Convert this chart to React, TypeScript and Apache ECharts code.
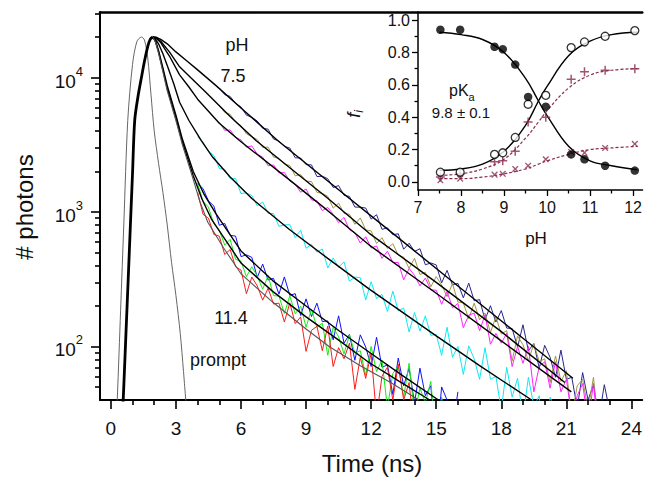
import React, { useEffect, useRef } from "react";
import * as echarts from "echarts";

// ---------- main panel: time-resolved decays ----------
const STEP = 0.25; // ns per plotted channel
const navyStart = 5.0;
const navyData = [8350,7460,7230,6410,6050,5250,5060,4750,4190,4130,3490,3370,3075,2990,2530,2520,2250,2240,1835,1843,1768,1522,1572,1330,1305,1088,1086,1070,886,955,743,763,677,689,529,586,509,533,405,418,404,297,368,287,295,230,296,219,223,158,201,152,185,137,136,99,145,93,105,69,102,83,59,94,57,59,35,64,40,52,29,52,33,38,26];
const oliveStart = 5.0;
const oliveData = [6225,5495,5330,4655,4394,3809,3630,3456,3016,3040,2560,2507,2271,2216,1857,1897,1698,1684,1400,1376,1308,1069,1162,977,963,810,904,737,723,583,644,536,581,477,461,381,453,343,356,278,331,286,235,293,214,211,161,210,158,177,127,166,124,131,78,120,103,78,105,77,81,54,85,55,66,30,51,57,34,59,24,37];
const magentaStart = 5.0;
const magentaData = [4651,4046,4074,3592,3434,3032,3101,2686,2562,2205,2237,1953,1966,1703,1611,1403,1484,1231,1210,1023,1081,962,833,910,737,704,587,655,540,559,452,511,422,421,313,380,338,282,323,264,262,206,256,194,209,138,171,177,131,172,104,125,106,125,71,100,75,100,46,71,77,49,77,46,57,30,43,53,27,53,20];
const cyanStart = 4.0;
const cyanData = [3629,3299,2819,2627,2108,2075,1771,1773,1371,1389,1324,1112,1187,976,973,782,802,806,644,732,538,574,504,531,384,455,389,425,306,329,324,222,303,227,244,182,258,184,193,128,179,130,169,121,123,86,139,83,100,62,101,81,57,98,57,60,34,70,42,58,30,59,36,43,15,42,34];
const blueStart = 4.0;
const blueData = [1632,1491,1209,1107,797,822,670,662,466,480,460,326,410,312,321,245,329,240,247,170,226,167,210,153,155,112,169,106,123,79,122,99,71,117,70,73,44,82,51,69,38,69,43,51,18,50,40,24,46];
const greenStart = 4.0;
const greenData = [1633,1199,1087,814,732,567,626,444,431,330,392,333,267,336,239,237,176,238,175,199,139,189,139,149,86,139,118,88,122,89,93,61,100,65,79,35,63,71,42,75,31,49,38,55,20,42,26];
const redStart = 4.0;
const redData = [1400,961,898,681,661,483,526,391,370,247,328,282,221,271,207,210,152,211,148,166,92,132,141,93,142,71,98,81,106,48,83,58,89,30,60,70,40,74,40,54,22,39,30];

// shared rising edge of all decays
const riseT = [0.45,0.6,0.7,0.8,0.9,1.0,1.1,1.25,1.41,1.55,1.7,1.82,1.94];
const riseC = [15,52,129,316,790,1950,4800,7200,10000,13200,17000,19300,20000];

// fitted decays (time, counts)
const navyFit = [[1.94,20000],[2.1,19900],[2.3,19200],[2.6,17800],[3.0,15500],[3.48,13400],[4.0,11400],[4.85,8700],[6.0,5940],[7.69,3400],[10,1700],[13,693],[16,282],[19,115],[21.3,58]];
const oliveFit = [[1.94,20000],[2.1,19700],[2.3,18600],[2.7,15500],[3.17,12000],[3.7,9900],[4.32,7950],[5.5,5130],[6.69,3400],[8.22,2150],[10,1265],[11.9,697],[15,300],[18,129],[20.93,54]];
const magentaFit = [[1.94,20000],[2.1,19500],[2.3,18200],[2.7,14450],[3.17,10470],[3.6,8500],[4.0,6900],[5.0,4570],[5.93,3400],[8.22,1740],[10,1023],[11.9,570],[15,249],[18,110],[21.23,46]];
const cyanFit = [[1.94,20000],[2.05,19300],[2.2,17800],[2.4,15000],[2.6,12300],[2.9,9000],[3.17,6550],[3.6,4790],[4.17,3400],[4.7,2550],[5.5,1820],[6.5,1259],[8.22,745],[10,452],[11.9,268],[15,120],[17,72],[19.4,40]];
const blueFit = [[1.94,20000],[2.07,18500],[2.2,15850],[2.4,11800],[2.6,8700],[3.0,5250],[3.3,3470],[3.8,2000],[4.3,1350],[4.85,970],[6.0,513],[7.46,309],[9,200],[10.52,131],[11.9,91],[13.5,60],[15.1,40]];
const greenFit = [[1.94,20000],[2.07,18300],[2.2,15500],[2.4,11400],[2.6,8300],[3.0,5000],[3.3,3300],[3.8,1860],[4.2,1250],[4.63,890],[6.0,417],[7.46,257],[9,166],[10.52,111],[11.9,76],[13.3,55],[14.7,40]];
const redFit = [[1.94,20000],[2.07,18100],[2.2,15100],[2.4,11000],[2.6,7950],[3.0,4790],[3.3,3160],[3.8,1740],[4.1,1200],[4.47,840],[5.2,540],[6.0,347],[7.46,214],[9,135],[10.06,100],[11.5,72],[12.9,54],[14.2,40]];

// instrument response ("prompt")
const promptT = [0.25,0.3,0.45,0.6,0.78,1.0,1.2,1.41,1.55,1.7,1.85,2.0,2.2,2.4,2.6,2.8,3.0,3.2,3.35,3.5];
const promptC = [30,42,186,830,4800,12500,18500,20000,19000,14000,7500,4000,2300,1400,800,420,240,125,65,32];

const xMajor = [0,3,6,9,12,15,18,21,24];
const xMinor = [1,2,4,5,7,8,10,11,13,14,16,17,19,20,22,23];
const yMajor = [100,1000,10000];
const yMinor = [50,60,70,80,90,200,300,400,500,600,700,800,900,2000,3000,4000,5000,6000,7000,8000,9000,20000,30000];

// ---------- inset: fractions vs pH ----------
const pHvals = [7.52,7.98,8.78,8.97,9.26,9.56,9.97,10.56,10.87,11.35,12.04];
const fFilled = [0.94,0.94,0.835,0.82,0.725,0.525,0.465,0.17,0.14,0.10,0.07];
const fOpen = [0.06,0.06,0.17,0.18,0.275,0.48,0.535,0.83,0.865,0.90,0.935];
const fPlus = [0.03,0.05,0.125,0.13,0.19,0.37,0.40,0.635,0.68,0.69,0.70];
const fCross = [0.01,0.02,0.045,0.05,0.08,0.10,0.14,0.185,0.18,0.21,0.235];
const fitPH = [7.5,8,8.5,9,9.5,9.8,10,10.5,11,11.5,12.1];
const fitFilled = [0.925,0.91,0.88,0.80,0.64,0.50,0.41,0.22,0.13,0.10,0.075];
const fitOpen = [0.072,0.08,0.11,0.19,0.35,0.50,0.59,0.78,0.87,0.91,0.925];
const fitPlus = [0.04,0.05,0.08,0.14,0.27,0.37,0.44,0.58,0.66,0.69,0.70];
const fitCross = [0.02,0.02,0.03,0.05,0.08,0.11,0.13,0.17,0.20,0.21,0.22];
const phMajor = [7,8,9,10,11,12];
const phMinor = [7.5,8.5,9.5,10.5,11.5];
const fMajor = [0,0.2,0.4,0.6,0.8,1.0];
const fMinor = [0.1,0.3,0.5,0.7,0.9];

const FONT = "Liberation Sans, Arial, sans-serif";
const MAROON = "#8a2a50";

const channelPairs = (start: number, arr: number[]) => arr.map((v, i) => [start + i * STEP, v]);
const zip = (a: number[], b: number[]) => a.map((v, i) => [v, b[i]]);

function buildOption() {
  const dataSeries = [
    { start: navyStart, data: navyData, color: "#262690" },
    { start: oliveStart, data: oliveData, color: "#9e9840" },
    { start: magentaStart, data: magentaData, color: "#ff22ff" },
    { start: cyanStart, data: cyanData, color: "#11e8f0" },
    { start: blueStart, data: blueData, color: "#1010ff" },
    { start: greenStart, data: greenData, color: "#11ee11" },
    { start: redStart, data: redData, color: "#ff1a1a" },
  ].map((d) => ({
    type: "line",
    xAxisIndex: 0,
    yAxisIndex: 0,
    data: channelPairs(d.start, d.data),
    showSymbol: false,
    symbol: "none",
    lineStyle: { color: d.color, width: 1 },
    z: 2,
  }));

  const fits = [navyFit, oliveFit, magentaFit, cyanFit, blueFit, greenFit, redFit].map((f, i) => ({
    type: "line",
    xAxisIndex: 0,
    yAxisIndex: 0,
    data: f,
    symbol: "none",
    smooth: false,
    lineStyle: { color: i === 6 ? "#555" : "#000", width: i === 6 ? 1.1 : 1.4 },
    z: 3,
  }));

  const plusPath = "path://M-1,-6H1V-1H6V1H1V6H-1V1H-6V-1H-1Z";
  const txt = (x: number, y: number, text: string, size: number) => ({
    type: "text", x, y,
    style: { text, fontSize: size, fontFamily: FONT, fill: "#111", textAlign: "center", textVerticalAlign: "middle" },
  });

  return {
    animation: false,
    backgroundColor: "#fff",
    textStyle: { fontFamily: FONT },
    grid: [
      { left: 100, top: 12, width: 545, height: 388 },
      { left: 418, top: 12, width: 227, height: 178 },
    ],
    xAxis: [
      {
        gridIndex: 0, type: "value", min: -0.5, max: 24.5, position: "bottom",
        axisLine: { onZero: false, lineStyle: { color: "#000", width: 2 } },
        axisTick: { customValues: xMajor, length: 9, lineStyle: { color: "#000", width: 1.6 } },
        axisLabel: { customValues: xMajor, margin: 19, fontSize: 19, color: "#111", fontFamily: FONT },
        splitLine: { show: false },
      },
      {
        gridIndex: 0, type: "value", min: -0.5, max: 24.5, position: "bottom",
        axisLine: { show: false, onZero: false },
        axisTick: { customValues: xMinor, length: 5, lineStyle: { color: "#000", width: 1.6 } },
        axisLabel: { show: false },
        splitLine: { show: false },
      },
      {
        gridIndex: 0, type: "value", min: -0.5, max: 24.5, position: "top",
        axisLine: { onZero: false, lineStyle: { color: "#000", width: 2.5 } },
        axisTick: { show: false },
        axisLabel: { show: false },
        splitLine: { show: false },
      },
      {
        gridIndex: 1, type: "value", min: 7, max: 12.22, position: "bottom",
        axisLine: { onZero: false, lineStyle: { color: "#000", width: 1.5 } },
        axisTick: { customValues: phMajor, length: 6, lineStyle: { color: "#000", width: 1.3 } },
        axisLabel: { customValues: phMajor, margin: 9, fontSize: 16, color: "#111", fontFamily: FONT },
        splitLine: { show: false },
      },
      {
        gridIndex: 1, type: "value", min: 7, max: 12.22, position: "bottom",
        axisLine: { show: false, onZero: false },
        axisTick: { customValues: phMinor, length: 3.5, lineStyle: { color: "#000", width: 1.3 } },
        axisLabel: { show: false },
        splitLine: { show: false },
      },
    ],
    yAxis: [
      {
        gridIndex: 0, type: "log", logBase: 10, min: 40, max: 30700, position: "left",
        axisLine: { onZero: false, lineStyle: { color: "#000", width: 2 } },
        axisTick: { customValues: yMajor, length: 9, lineStyle: { color: "#000", width: 1.6 } },
        axisLabel: {
          customValues: yMajor,
          margin: 17,
          formatter: (v: number) => `{b|10}{s|${Math.round(Math.log10(v))}}`,
          rich: {
            b: { fontSize: 19, lineHeight: 26, verticalAlign: "bottom", color: "#111", fontFamily: FONT },
            s: { fontSize: 13, lineHeight: 14, verticalAlign: "top", color: "#111", fontFamily: FONT },
          },
        },
        splitLine: { show: false },
      },
      {
        gridIndex: 0, type: "log", logBase: 10, min: 40, max: 30700, position: "left",
        axisLine: { show: false, onZero: false },
        axisTick: { customValues: yMinor, length: 5, lineStyle: { color: "#000", width: 1.6 } },
        axisLabel: { show: false },
        splitLine: { show: false },
      },
      {
        gridIndex: 1, type: "value", min: -0.05, max: 1.05, position: "left",
        axisLine: { onZero: false, lineStyle: { color: "#000", width: 1.5 } },
        axisTick: { customValues: fMajor, length: 6, lineStyle: { color: "#000", width: 1.3 } },
        axisLabel: {
          customValues: fMajor, margin: 8, fontSize: 16, color: "#111", fontFamily: FONT,
          formatter: (v: number) => v.toFixed(1),
        },
        splitLine: { show: false },
      },
      {
        gridIndex: 1, type: "value", min: -0.05, max: 1.05, position: "left",
        axisLine: { show: false, onZero: false },
        axisTick: { customValues: fMinor, length: 3.5, lineStyle: { color: "#000", width: 1.3 } },
        axisLabel: { show: false },
        splitLine: { show: false },
      },
    ],
    series: [
      {
        type: "line", xAxisIndex: 0, yAxisIndex: 0,
        data: zip(promptT, promptC), symbol: "none", smooth: 0.3,
        lineStyle: { color: "#666", width: 1 }, z: 2,
      },
      ...dataSeries,
      ...fits,
      {
        type: "line", xAxisIndex: 0, yAxisIndex: 0,
        data: zip(riseT, riseC), symbol: "none", smooth: 0.3,
        lineStyle: { color: "#000", width: 2.8 }, z: 4,
      },
      // inset fits
      {
        type: "line", xAxisIndex: 3, yAxisIndex: 2, data: zip(fitPH, fitFilled), symbol: "none",
        smooth: 0.4, lineStyle: { color: "#000", width: 1.4 }, z: 3,
      },
      {
        type: "line", xAxisIndex: 3, yAxisIndex: 2, data: zip(fitPH, fitOpen), symbol: "none",
        smooth: 0.4, lineStyle: { color: "#000", width: 1.4 }, z: 3,
      },
      {
        type: "line", xAxisIndex: 3, yAxisIndex: 2, data: zip(fitPH, fitPlus), symbol: "none",
        smooth: 0.4, lineStyle: { color: MAROON, width: 1.2, type: [3, 2] }, z: 3,
      },
      {
        type: "line", xAxisIndex: 3, yAxisIndex: 2, data: zip(fitPH, fitCross), symbol: "none",
        smooth: 0.4, lineStyle: { color: MAROON, width: 1.2, type: [3, 2] }, z: 3,
      },
      // inset points
      {
        type: "scatter", xAxisIndex: 3, yAxisIndex: 2, data: zip(pHvals, fCross),
        symbol: plusPath, symbolRotate: 45, symbolSize: 8, itemStyle: { color: MAROON }, z: 5,
      },
      {
        type: "scatter", xAxisIndex: 3, yAxisIndex: 2, data: zip(pHvals, fPlus),
        symbol: plusPath, symbolSize: 9, itemStyle: { color: MAROON }, z: 5,
      },
      {
        type: "scatter", xAxisIndex: 3, yAxisIndex: 2, data: zip(pHvals, fOpen),
        symbol: "circle", symbolSize: 8, itemStyle: { color: "#fff", borderColor: "#000", borderWidth: 1.3 }, z: 6,
      },
      {
        type: "scatter", xAxisIndex: 3, yAxisIndex: 2, data: zip(pHvals, fFilled),
        symbol: "circle", symbolSize: 8.5, itemStyle: { color: "#000" }, z: 6,
      },
    ],
    graphic: [
      {
        type: "text", x: 24, y: 207, rotation: Math.PI / 2,
        style: { text: "# photons", fontSize: 24, fontFamily: FONT, fill: "#111", textAlign: "center", textVerticalAlign: "middle" },
      },
      txt(372, 463, "Time (ns)", 24),
      txt(237, 45, "pH", 18),
      txt(233, 76, "7.5", 18),
      txt(231, 318, "11.4", 18),
      txt(218, 360, "prompt", 18),
      txt(536, 238, "pH", 17),
      {
        type: "text", x: 449, y: 92,
        style: {
          text: "{a|pK}{b|a}", textAlign: "left", textVerticalAlign: "middle",
          rich: {
            a: { fontSize: 16, fontFamily: FONT, fill: "#111", lineHeight: 20, verticalAlign: "top" },
            b: { fontSize: 11, fontFamily: FONT, fill: "#111", lineHeight: 11, verticalAlign: "bottom" },
          },
        },
      },
      txt(461, 112, "9.8 ± 0.1", 15),
      {
        type: "text", x: 355, y: 114, rotation: Math.PI / 2,
        style: {
          text: "{f|f}{i|i}", textAlign: "center", textVerticalAlign: "middle",
          rich: {
            f: { fontSize: 18, fontStyle: "italic", fontFamily: FONT, fill: "#111", lineHeight: 20, verticalAlign: "top" },
            i: { fontSize: 12, fontStyle: "italic", fontFamily: FONT, fill: "#111", lineHeight: 12, verticalAlign: "bottom" },
          },
        },
      },
    ],
  };
}

export default function App() {
  const ref = useRef<HTMLDivElement>(null);
  useEffect(() => {
    document.body.style.margin = "0";
    if (!ref.current) return;
    const chart = echarts.init(ref.current, null, { renderer: "svg" });
    chart.setOption(buildOption() as any);
    return () => chart.dispose();
  }, []);
  return <div ref={ref} style={{ width: 645, height: 481 }} />;
}
